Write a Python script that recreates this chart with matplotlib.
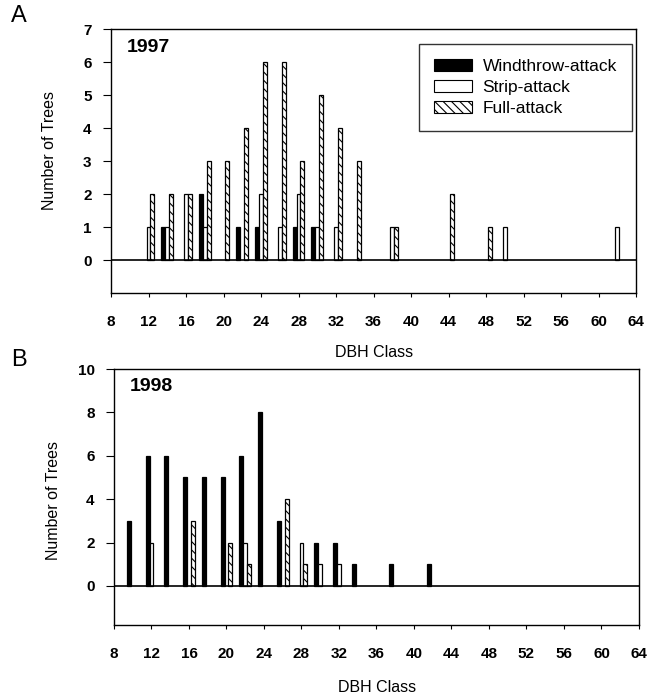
import numpy as np
import matplotlib.pyplot as plt
from matplotlib.patches import Patch

plt.rcParams['font.family'] = ['Liberation Sans', 'DejaVu Sans']
plt.rcParams['hatch.linewidth'] = 0.8

## data (DBH class -> number of trees)
classes_97 = [12, 14, 16, 18, 20, 22, 24, 26, 28, 30, 32, 34, 38, 44, 48, 50, 62]
wind_97 = [0, 1, 0, 2, 0, 1, 1, 0, 1, 1, 0, 0, 0, 0, 0, 0, 0]
strip_97 = [1, 1, 2, 1, 0, 0, 2, 1, 2, 1, 1, 0, 1, 0, 0, 1, 1]
full_97 = [2, 2, 2, 3, 3, 4, 6, 6, 3, 5, 4, 3, 1, 2, 1, 0, 0]

classes_98 = [10, 12, 14, 16, 18, 20, 22, 24, 26, 28, 30, 32, 34, 38, 42]
wind_98 = [3, 6, 6, 5, 5, 5, 6, 8, 3, 0, 2, 2, 1, 1, 1]
strip_98 = [0, 2, 0, 0, 0, 0, 2, 0, 0, 2, 1, 1, 0, 0, 0]
full_98 = [0, 0, 0, 3, 0, 2, 1, 0, 4, 1, 0, 0, 0, 0, 0]

series_names = ["Windthrow-attack", "Strip-attack", "Full-attack"]
xticks = list(range(8, 65, 4))

fig = plt.figure(figsize=(6.47, 6.96), dpi=100)
axA = fig.add_axes([0.1716, 0.579, 0.8114, 0.3793])
axB = fig.add_axes([0.1762, 0.102, 0.8114, 0.3678])

w = 0.42
styles = [dict(color='black', edgecolor='black'),
          dict(color='white', edgecolor='black'),
          dict(color='white', edgecolor='black', hatch='\\\\\\\\')]


def draw(ax, classes, wind, strip, full, ymin, ymax, ystep, year):
    x = np.array(classes, dtype=float)
    for off, vals, st in zip([-w, 0, w], [wind, strip, full], styles):
        vals = np.array(vals)
        m = vals > 0
        ax.bar(x[m] + off, vals[m], width=w, linewidth=0.9, **st)
    ax.axhline(0, color='black', lw=1.2)
    ax.set_xlim(8, 64)
    ax.set_ylim(ymin, ymax)
    ax.set_xticks(xticks)
    ax.set_yticks(np.arange(0, ymax + 0.1, ystep))
    ax.tick_params(axis='x', direction='out', length=3, pad=13, labelsize=11)
    ax.tick_params(axis='y', direction='out', length=6, pad=8, labelsize=11)
    for lab in ax.get_xticklabels() + ax.get_yticklabels():
        lab.set_fontweight('bold')
    for sp in ax.spines.values():
        sp.set_linewidth(1.0)
    ax.text(0.03, 0.93, year, transform=ax.transAxes, fontsize=14,
            fontweight='bold', va='center', ha='left')


draw(axA, classes_97, wind_97, strip_97, full_97, -1, 7, 1, "1997")
draw(axB, classes_98, wind_98, strip_98, full_98, -1.8, 10, 2, "1998")

handles = [Patch(facecolor=st['color'], edgecolor='black', hatch=st.get('hatch'),
                 linewidth=0.8, label=n) for st, n in zip(styles, series_names)]
leg = axA.legend(handles=handles, loc='upper right', bbox_to_anchor=(0.992, 0.943),
                 borderaxespad=0, fontsize=12.5, frameon=True, fancybox=False,
                 edgecolor='black', handlelength=2.2, handleheight=0.7,
                 labelspacing=0.35, borderpad=0.85, handletextpad=0.6)
leg.get_frame().set_linewidth(1.0)

## axis titles and panel letters
fig.text(50 / 647, 1 - 151 / 696, "Number of Trees", rotation=90,
         ha='center', va='center', fontsize=11.5)
fig.text(53 / 647, 1 - 500 / 696, "Number of Trees", rotation=90,
         ha='center', va='center', fontsize=11.5)
fig.text(374 / 647, 1 - 352 / 696, "DBH Class", ha='center', va='center', fontsize=11.5)
fig.text(377 / 647, 1 - 687 / 696, "DBH Class", ha='center', va='center', fontsize=11.5)
fig.text(19 / 647, 1 - 16 / 696, "A", ha='center', va='center', fontsize=17)
fig.text(19 / 647, 1 - 360 / 696, "B", ha='center', va='center', fontsize=17)

fig.savefig("out.png", dpi=100)
